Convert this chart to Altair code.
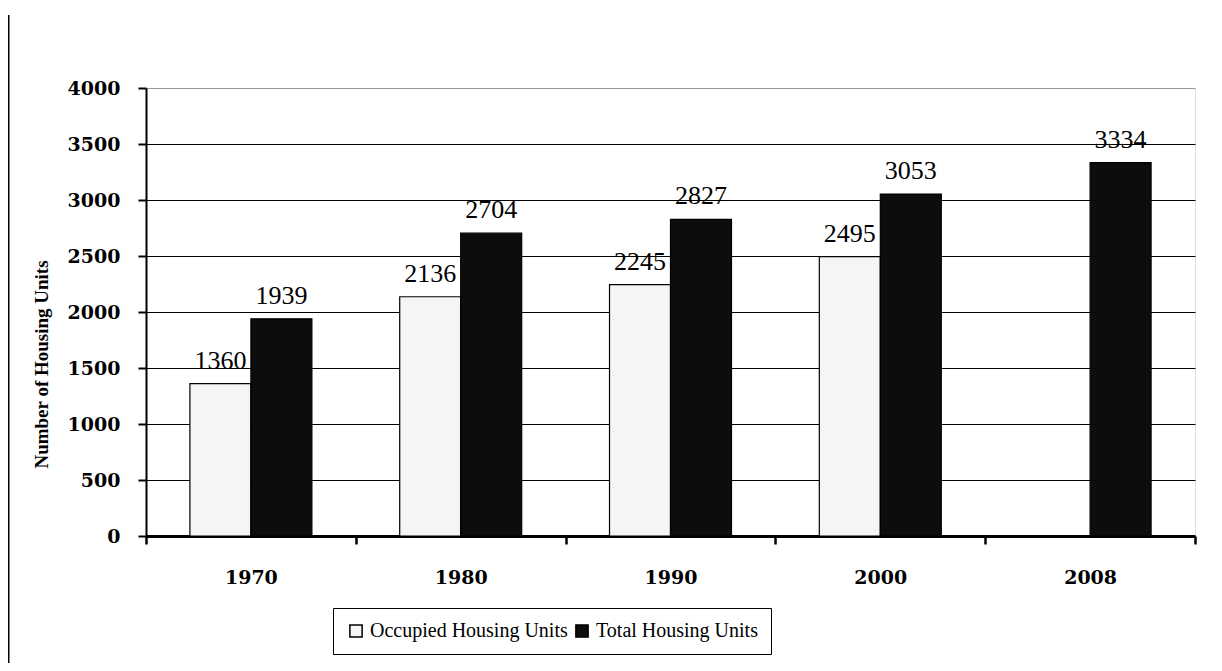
import altair as alt
import pandas as pd

years = ["1970", "1980", "1990", "2000", "2008"]
occupied = [1360, 2136, 2245, 2495, None]
total = [1939, 2704, 2827, 3053, 3334]
series = ["Occupied Housing Units", "Total Housing Units"]
y_ticks = [0, 500, 1000, 1500, 2000, 2500, 3000, 3500, 4000]

rows = []
for i, yr in enumerate(years):
    if occupied[i] is not None:
        rows.append({"year": yr, "series": series[0], "value": occupied[i]})
    rows.append({"year": yr, "series": series[1], "value": total[i]})
df = pd.DataFrame(rows)

SERIF = "Liberation Serif"
AXFONT = "DejaVu Serif"

x = alt.X(
    "year:N",
    sort=years,
    scale=alt.Scale(paddingInner=0, paddingOuter=0),
    axis=alt.Axis(
        title=None,
        labelAngle=0,
        tickBand="extent",
        labelFont=AXFONT,
        labelFontWeight="bold",
        labelFontSize=19,
        labelColor="black",
        labelPadding=24,
        tickSize=8,
        tickColor="black",
        tickWidth=2.5,
        domainColor="black",
        domainWidth=3,
        grid=False,
    ),
)
xoff = alt.XOffset(
    "series:N",
    sort=series,
    scale=alt.Scale(domain=series, paddingInner=0, paddingOuter=0.72),
)
y = alt.Y(
    "value:Q",
    scale=alt.Scale(domain=[0, 4000], nice=False),
    axis=alt.Axis(
        values=y_ticks,
        format="d",
        title="Number of Housing Units",
        titleFont=SERIF,
        titleFontWeight="bold",
        titleFontSize=19,
        titleColor="black",
        titlePadding=16,
        titleY=276,
        labelFont=AXFONT,
        labelFontWeight="bold",
        labelFontSize=19,
        labelColor="black",
        labelPadding=18,
        tickSize=8,
        tickColor="black",
        tickWidth=2,
        domainColor="black",
        domainWidth=2,
        grid=True,
        gridColor={"condition": {"test": "datum.value === 4000", "value": "#999999"}, "value": "black"},
        gridWidth=1.2,
    ),
)
color = alt.Color(
    "series:N",
    sort=series,
    scale=alt.Scale(domain=series, range=["#f5f5f5", "#0d0d0d"]),
    legend=alt.Legend(
        title=None,
        orient="none",
        legendX=187,
        legendY=520,
        direction="horizontal",
        strokeColor="black",
        fillColor="white",
        padding=13,
        symbolType="square",
        symbolSize=150,
        symbolStrokeColor="black",
        symbolStrokeWidth=1.5,
        labelFont=SERIF,
        labelFontSize=20,
        labelColor="black",
        labelLimit=0,
        columnPadding=4,
        labelOffset=4,
    ),
)

bars = alt.Chart(df).mark_bar(stroke="black", strokeWidth=1.2).encode(
    x=x, xOffset=xoff, y=y, color=color
)
labels = alt.Chart(df).mark_text(
    font=SERIF, fontSize=26, color="black", baseline="alphabetic", dy=-15
).encode(x=x, xOffset=xoff, y="value:Q", text="value:Q")

frame = alt.Chart(alt.Data(values=[{"a": 1}])).mark_rule(color="black", strokeWidth=3).encode(
    x=alt.value(-138), y=alt.value(-73), y2=alt.value(575)
)

chart = (
    alt.layer(bars, labels, frame)
    .properties(
        width=1049,
        height=448,
        autosize=alt.AutoSizeParams(type="none"),
        padding={"left": 138, "top": 80, "right": 19, "bottom": 127},
    )
    .configure_view(stroke="#999999", strokeWidth=2)
    .configure(background="white")
)

chart.save("out.html", embed_options={"renderer": "svg", "actions": False})
